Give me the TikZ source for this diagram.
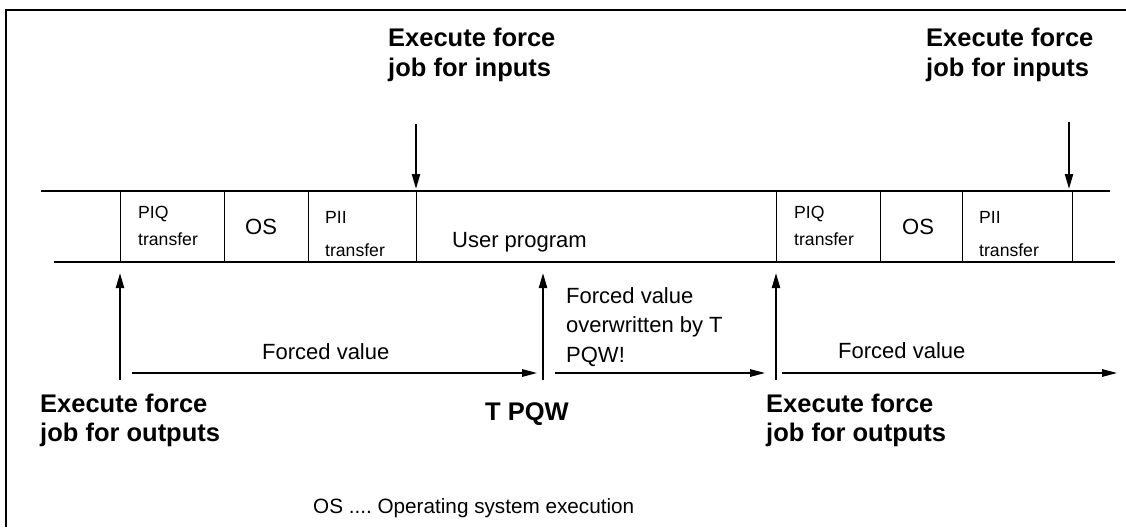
\documentclass[tikz,border=0pt]{standalone}
\usepackage{fontspec}
\setmainfont{Liberation Sans}
\usetikzlibrary{arrows.meta}
\frenchspacing

\tikzset{
  lbl/.style={font=\fontsize{22}{29.5}\selectfont, inner sep=0pt, anchor=base west, align=left},
  small/.style={font=\fontsize{17.6}{27}\selectfont, inner sep=0pt, anchor=base west, align=left},
  boldlbl/.style={font=\fontsize{25.5}{29}\selectfont\bfseries, inner sep=0pt, anchor=base west, align=left},
  force/.style={line width=2.2pt, -{Triangle[length=15pt,width=8pt]}},
  value/.style={line width=1.5pt, -{Triangle[length=15pt,width=7.5pt]}},
}

\begin{document}
\begin{tikzpicture}[x=1pt,y=-1pt]
  \useasboundingbox (0,0) rectangle (1126,527);
  % frame
  \draw[line width=1.2pt] (6,527) -- (6,10) -- (1126,10);
  % cycle band
  \draw[line width=1.5pt] (41,191) -- (1110,191);
  \draw[line width=1.5pt] (54,262) -- (1115,262);
  \foreach \x in {120,224,308,416,776,880,962,1072}
    \draw[line width=1pt] (\x,191) -- (\x,262);

  % (base of a multi-line node = its last line)
  \node[small] (piq1) at (138,245) {PIQ\\transfer};
  \node[lbl] (os1) at (245,234) {OS};
  \node[small] (pii1) at (325,256) {PII\\[6pt]transfer};
  \node[lbl] (user) at (452,247) {User program};
  \node[small] (piq2) at (794,245) {PIQ\\transfer};
  \node[lbl] (os2) at (902,234) {OS};
  \node[small] (pii2) at (979,256) {PII\\[6pt]transfer};

  % force jobs
  \node[boldlbl] (inlbl1) at (388,76) {Execute force\\job for inputs};
  \node[boldlbl] (inlbl2) at (926,76) {Execute force\\job for inputs};
  \node[boldlbl] (outlbl1) at (40,441) {Execute force\\job for outputs};
  \node[boldlbl] (outlbl2) at (766,441) {Execute force\\job for outputs};
  \node[boldlbl] (tpqw) at (485,420) {T PQW};

  \coordinate (fin1) at (416,124);  \coordinate (fin1e) at (416,189);
  \coordinate (fin2) at (1069,122); \coordinate (fin2e) at (1069,189);
  \coordinate (fout1) at (120,380); \coordinate (fout1e) at (120,273);
  \coordinate (tp) at (543,380);    \coordinate (tpe) at (543,273);
  \coordinate (fout2) at (776,380); \coordinate (fout2e) at (776,273);
  \draw[force] (fin1) -- (fin1e);
  \draw[force] (fin2) -- (fin2e);
  \draw[force] (fout1) -- (fout1e);
  \draw[force] (tp) -- (tpe);
  \draw[force] (fout2) -- (fout2e);

  % forced values
  \coordinate (v1s) at (132,373); \coordinate (v1e) at (537,373);
  \coordinate (v2s) at (555,373); \coordinate (v2e) at (765,373);
  \coordinate (v3s) at (782,373); \coordinate (v3e) at (1117,373);
  \draw[value] (v1s) -- (v1e);
  \draw[value] (v2s) -- (v2e);
  \draw[value] (v3s) -- (v3e);
  \node[lbl] (fv1) at (262,359) {Forced value};
  \node[lbl] (fv2) at (566,362) {Forced value\\overwritten by T\\PQW!};
  \node[lbl] (fv3) at (838,358) {Forced value};

  \node[lbl, font=\fontsize{20.7}{25}\selectfont] (legend) at (313,513) {OS .... Operating system execution};
\end{tikzpicture}
\end{document}
